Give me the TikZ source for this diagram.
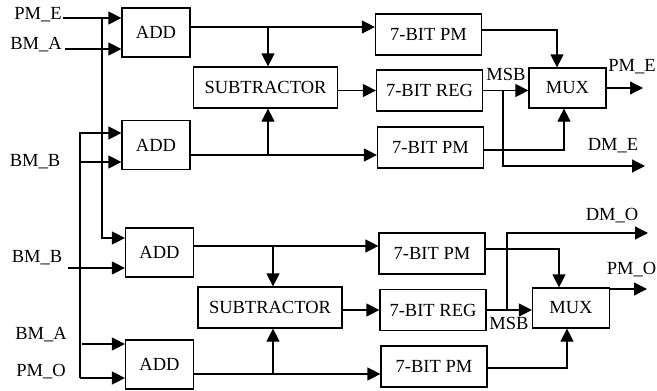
\documentclass[tikz,border=0pt]{standalone}
\usepackage{fontspec}
\setmainfont{Liberation Serif}
\usetikzlibrary{arrows.meta}

\begin{document}
\begin{tikzpicture}[x=1pt, y=-1pt,
  every node/.style={font=\fontsize{18.5}{20}\selectfont},
  block/.style={draw, line width=1.2pt, minimum height=41pt, inner sep=0pt},
  addbox/.style={block, minimum width=68pt, minimum height=49pt},
  subbox/.style={block, minimum width=144pt},
  regbox/.style={block, minimum width=106pt},
  muxbox/.style={block, minimum width=77pt, minimum height=40pt},
  sig/.style={inner sep=0pt},
  arrow/.style={-{Triangle[length=13pt,width=13pt]}, line width=1.2pt},
]
\useasboundingbox (0,0) rectangle (657,391);

%% ── Input labels ───────────────────────────────────────────────────────────
\node[sig] (pmE)  at (38,15)  {PM\_E};
\node[sig] (bmA1) at (36,45)  {BM\_A};
\node[sig] (bmB1) at (35,162) {BM\_B};
\node[sig] (bmB2) at (37,258) {BM\_B};
\node[sig] (bmA2) at (41,335) {BM\_A};
\node[sig] (pmO)  at (41,372) {PM\_O};

%% ── Even half ──────────────────────────────────────────────────────────────
\node[addbox] (add1) at (156,32.5)  {ADD};
\node[addbox] (add2) at (156,145)   {ADD};
\node[subbox] (sub1) at (265.5,87.5) {SUBTRACTOR};
\node[regbox] (pm1)  at (428.5,34.5) {7-BIT PM};
\node[regbox] (reg1) at (429.5,90.5) {7-BIT REG};
\node[regbox] (pm2)  at (430.5,147.5) {7-BIT PM};
\node[muxbox] (mux1) at (567.5,88)   {MUX};

%% ── Odd half ───────────────────────────────────────────────────────────────
\node[addbox] (add3) at (159.5,252.5) {ADD};
\node[addbox] (add4) at (159.5,364.5) {ADD};
\node[subbox] (sub2) at (270,307.5)   {SUBTRACTOR};
\node[regbox] (pm3)  at (432,253.5)   {7-BIT PM};
\node[regbox] (reg2) at (433,310)     {7-BIT REG};
\node[regbox] (pm4)  at (434,366.5)   {7-BIT PM};
\node[muxbox] (mux2) at (571,308)     {MUX};

%% ── Output labels ──────────────────────────────────────────────────────────
\node[sig] (msb1) at (506,74)  {MSB};
\node[sig] (msb2) at (509,323) {MSB};
\node[sig] (outE) at (632,67)  {PM\_E};
\node[sig] (dmE)  at (613,146) {DM\_E};
\node[sig] (dmO)  at (612,216) {DM\_O};
\node[sig, anchor=east] (outO) at (656.5,270) {PM\_O};

%% ── Junctions ──────────────────────────────────────────────────────────────
\coordinate (e1) at (63,18);
\coordinate (e2) at (65,49);
\coordinate (vE) at (102,18);
\coordinate (t3) at (102,238);
\coordinate (vO) at (80,133);
\coordinate (o1) at (80,378);
\coordinate (b1) at (80,162);
\coordinate (b2) at (68,268);
\coordinate (a2) at (82,344);
\coordinate (s1) at (268,27);
\coordinate (s2) at (268,155);
\coordinate (s3) at (273,246);
\coordinate (s4) at (273,374);
\coordinate (m1) at (557,30);
\coordinate (m2) at (564,150);
\coordinate (m3) at (559,249);
\coordinate (m4) at (567,368);
\coordinate (k1) at (503,0);
\coordinate (k2) at (507,0);
\coordinate (dE) at (645,166);
\coordinate (dO) at (648,233);
\coordinate (oE) at (643,88);
\coordinate (oO) at (647,289);

%% ── Adder inputs ───────────────────────────────────────────────────────────
\draw[arrow] (e1) -- (e1 -| add1.west);
\draw[arrow] (e2) -- (e2 -| add1.west);
\draw[arrow] (vE) -- (t3) -- (t3 -| add3.west);
\draw[arrow] (o1) -- (vO) -- (vO -| add2.west);
\draw[arrow] (o1) -- (o1 -| add4.west);
\draw[arrow] (b1) -- (b1 -| add2.west);
\draw[arrow] (b2) -- (b2 -| add3.west);
\draw[arrow] (a2) -- (a2 -| add4.west);

%% ── Adder outputs ──────────────────────────────────────────────────────────
\draw[arrow] (s1 -| add1.east) -- (s1 -| pm1.west);
\draw[arrow] (s1) -- (s1 |- sub1.north);
\draw[arrow] (s2 -| add2.east) -- (s2 -| pm2.west);
\draw[arrow] (s2) -- (s2 |- sub1.south);
\draw[arrow] (s3 -| add3.east) -- (s3 -| pm3.west);
\draw[arrow] (s3) -- (s3 |- sub2.north);
\draw[arrow] (s4 -| add4.east) -- (s4 -| pm4.west);
\draw[arrow] (s4) -- (s4 |- sub2.south);
\draw[arrow] (sub1.east |- reg1.west) -- (reg1.west);
\draw[arrow] (sub2.east |- reg2.west) -- (reg2.west);

%% ── Mux inputs ─────────────────────────────────────────────────────────────
\draw[arrow] (m1 -| pm1.east) -- (m1) -- (m1 |- mux1.north);
\draw[arrow] (reg1.east) -- (reg1.east -| mux1.west);
\draw[arrow] (m2 -| pm2.east) -- (m2) -- (m2 |- mux1.south);
\draw[arrow] (m3 -| pm3.east) -- (m3) -- (m3 |- mux2.north);
\draw[arrow] (reg2.east) -- (reg2.east -| mux2.west);
\draw[arrow] (m4 -| pm4.east) -- (m4) -- (m4 |- mux2.south);

%% ── Outputs ────────────────────────────────────────────────────────────────
\draw[arrow] (reg1.east -| k1) -- (k1 |- dE) -- (dE);
\draw[arrow] (reg2.east -| k2) -- (k2 |- dO) -- (dO);
\draw[arrow] (mux1.east) -- (oE);
\draw[arrow] (oO -| mux2.east) -- (oO);

\end{tikzpicture}
\end{document}
